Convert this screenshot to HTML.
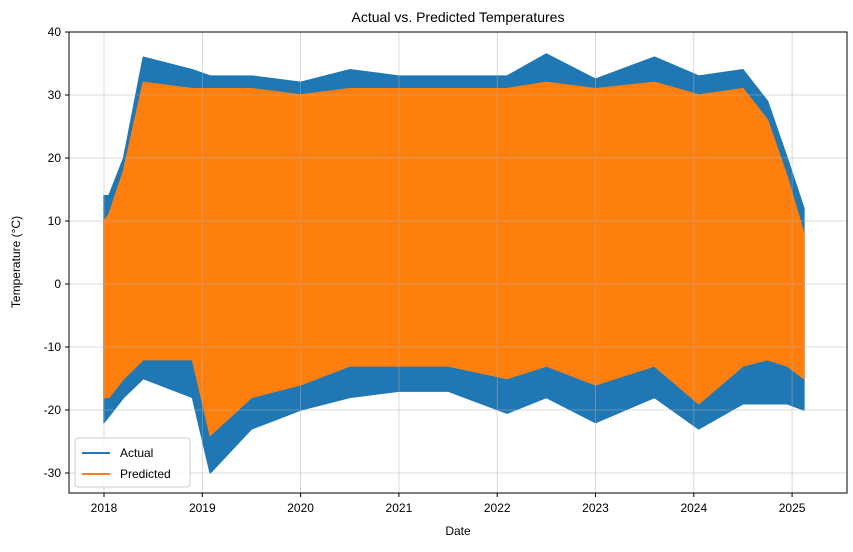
<!DOCTYPE html>
<html><head><meta charset="utf-8"><style>
body{margin:0;background:#fff;font-family:"Liberation Sans","DejaVu Sans",sans-serif}
</style></head><body>
<svg id="chart" width="853" height="547" viewBox="0 0 853 547" xmlns="http://www.w3.org/2000/svg">
<rect width="853" height="547" fill="#fff"/>
<g id="series"></g>
<g id="grid" opacity="0.6"></g>
<rect x="69" y="32" width="778" height="461" fill="none" stroke="#000" stroke-width="1"/>
<g id="axes" font-size="12" fill="#000"></g>
<text x="458" y="22" text-anchor="middle" font-size="14">Actual vs. Predicted Temperatures</text>
<text x="458" y="535" text-anchor="middle" font-size="12">Date</text>
<text transform="translate(20,262) rotate(-90)" text-anchor="middle" font-size="12">Temperature (°C)</text>
<g>
<rect x="75" y="438" width="115" height="49" rx="3" fill="#fff" fill-opacity="0.8" stroke="#ccc"/>
<g><line x1="82" y1="453" x2="110" y2="453" stroke="#1f77b4" stroke-width="2"/><text x="120" y="457" font-size="12">Actual</text></g>
<g><line x1="82" y1="474" x2="110" y2="474" stroke="#ff7f0e" stroke-width="2"/><text x="120" y="478" font-size="12">Predicted</text></g>
</g>
</svg>
<script>
const dates =      [2018.0,2018.05,2018.2,2018.4,2018.9,2019.08,2019.5,2020.0,2020.5,2021.0,2021.5,2022.1,2022.5,2023.0,2023.6,2024.05,2024.5,2024.75,2024.95,2025.12];
const actualHigh = [14,14,20,36,34,33,33,32,34,33,33,33,36.5,32.5,36,33,34,29,20,12];
const actualLow  = [-22,-21,-18,-15,-18,-30,-23,-20,-18,-17,-17,-20.5,-18,-22,-18,-23,-19,-19,-19,-20];
const predHigh   = [10,11,18,32,31,31,31,30,31,31,31,31,32,31,32,30,31,26,17,8];
const predLow    = [-18,-18,-15,-12,-12,-24,-18,-16,-13,-13,-13,-15,-13,-16,-13,-19,-13,-12,-13,-15];
const yTicks = [-30,-20,-10,0,10,20,30,40];
const xTicks = [2018,2019,2020,2021,2022,2023,2024,2025];

const xs = d => 104 + (d - 2018) * 98.3;
const ys = v => 284 - v * 6.3;
const NS = "http://www.w3.org/2000/svg";
const grid = document.getElementById('grid'), axes = document.getElementById('axes'), series = document.getElementById('series');

yTicks.forEach(t => {
  const y = ys(t);
  const g = document.createElementNS(NS,'line');
  g.setAttribute('x1',69);g.setAttribute('x2',847);g.setAttribute('y1',y);g.setAttribute('y2',y);
  g.setAttribute('stroke','#b0b0b0');g.setAttribute('stroke-width','0.8');
  
  
  grid.appendChild(g);
  const tk = document.createElementNS(NS,'line');
  tk.setAttribute('x1',65);tk.setAttribute('x2',69);tk.setAttribute('y1',y);tk.setAttribute('y2',y);tk.setAttribute('stroke','#000');
  
  
  axes.appendChild(tk);
  const tx = document.createElementNS(NS,'text');
  tx.setAttribute('x',61);tx.setAttribute('y',y+4);tx.setAttribute('text-anchor','end');tx.textContent=t;
  
  
  axes.appendChild(tx);
});
xTicks.forEach(t => {
  const x = xs(t);
  const g = document.createElementNS(NS,'line');
  g.setAttribute('x1',x);g.setAttribute('x2',x);g.setAttribute('y1',32);g.setAttribute('y2',493);
  g.setAttribute('stroke','#b0b0b0');g.setAttribute('stroke-width','0.8');
  
  
  grid.appendChild(g);
  const tk = document.createElementNS(NS,'line');
  tk.setAttribute('x1',x);tk.setAttribute('x2',x);tk.setAttribute('y1',493);tk.setAttribute('y2',497);tk.setAttribute('stroke','#000');
  
  
  axes.appendChild(tk);
  const tx = document.createElementNS(NS,'text');
  tx.setAttribute('x',x);tx.setAttribute('y',512);tx.setAttribute('text-anchor','middle');tx.textContent=t;
  
  
  axes.appendChild(tx);
});

function band(hi, lo, color, name){
  const top = dates.map((d,i)=>xs(d)+','+ys(hi[i]));
  const bot = dates.map((d,i)=>xs(d)+','+ys(lo[i])).reverse();
  const p = document.createElementNS(NS,'polygon');
  p.setAttribute('points', top.concat(bot).join(' '));
  p.setAttribute('fill', color);
  p.setAttribute('stroke', color);
  p.setAttribute('stroke-width', '1.5');
  p.setAttribute('stroke-linejoin', 'round');
  
  
  series.appendChild(p);
}
band(actualHigh, actualLow, '#1f77b4', 'actual-series');
band(predHigh, predLow, '#ff7f0e', 'predicted-series');
</script>
</body></html>
